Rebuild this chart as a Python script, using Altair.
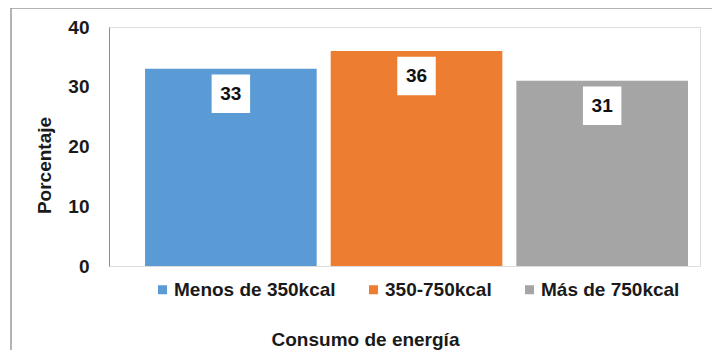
import altair as alt
import pandas as pd

categories = ["Menos de 350kcal", "350-750kcal", "Más de 750kcal"]
values = [33, 36, 31]
colors = ["#5B9BD5", "#ED7D31", "#A5A5A5"]
y_ticks = [0, 10, 20, 30, 40]

FONT = "Liberation Sans"

df = pd.DataFrame({"cat": categories, "val": values})

W, H = 591, 239

x_enc = alt.X(
    "cat:N",
    sort=categories,
    scale=alt.Scale(paddingInner=0.0755, paddingOuter=0.1294, align=0.75),
    axis=alt.Axis(
        title="Consumo de energía",
        labels=False,
        ticks=False,
        domain=False,
        titleFont=FONT,
        titleFontSize=19,
        titleFontWeight="bold",
        titleColor="#1a1a1a",
        titleX=256,
        titleY=79,
        titleBaseline="alphabetic",
        titleAnchor="middle",
        titleAlign="center",
        zindex=1,
    ),
)
y_enc = alt.Y(
    "val:Q",
    scale=alt.Scale(domain=[0, 40]),
    axis=alt.Axis(
        title="Porcentaje",
        values=y_ticks,
        grid=False,
        ticks=False,
        domainColor="#8c8c8c",
        domainWidth=1,
        labelFont=FONT,
        labelFontSize=19,
        labelFontWeight="bold",
        labelColor="#1a1a1a",
        labelPadding=20,
        titleFont=FONT,
        titleFontSize=19,
        titleFontWeight="bold",
        titleColor="#1a1a1a",
        titleX=-59,
        titleY=138,
        titleAngle=-90,
        titleBaseline="alphabetic",
        titleAlign="center",
        zindex=1,
    ),
)

frame = alt.Chart(pd.DataFrame({"k": [0]})).mark_rect(
    fillOpacity=0, stroke="#9a9a9a", strokeWidth=1.5
).encode(
    x=alt.value(-98), x2=alt.value(W + 40), y=alt.value(-19), y2=alt.value(H + 120)
)

bars = alt.Chart(df).mark_bar().encode(
    x=x_enc,
    y=y_enc,
    color=alt.Color(
        "cat:N",
        sort=categories,
        scale=alt.Scale(domain=categories, range=colors),
        legend=alt.Legend(
            title=None,
            orient="none",
            direction="horizontal",
            legendX=44,
            legendY=253,
            symbolType="square",
            symbolSize=81,
            symbolStrokeWidth=0,
            labelFont=FONT,
            labelFontSize=19,
            labelFontWeight="bold",
            labelColor="#1a1a1a",
            labelOffset=2,
            columnPadding=28,
            padding=0,
            labelLimit=400,
        ),
    ),
)

boxes = alt.Chart(df).mark_point(
    shape="square", size=1480, filled=True, color="white", opacity=1, yOffset=25
).encode(x=alt.X("cat:N", sort=categories), y="val:Q")

labels = alt.Chart(df).mark_text(
    font=FONT, fontSize=19, fontWeight="bold", color="#111111", yOffset=25, baseline="middle"
).encode(x=alt.X("cat:N", sort=categories), y="val:Q", text="val:Q")

chart = alt.layer(frame, bars, boxes, labels).properties(
    width=W,
    height=H,
    autosize=alt.AutoSizeParams(type="none"),
    padding={"left": 101, "top": 19, "right": 704 - 101 - W, "bottom": 342 - 19 - H},
).configure_view(stroke=None).configure(background="white")

chart.save("out.html", embed_options={"renderer": "svg", "actions": False})
